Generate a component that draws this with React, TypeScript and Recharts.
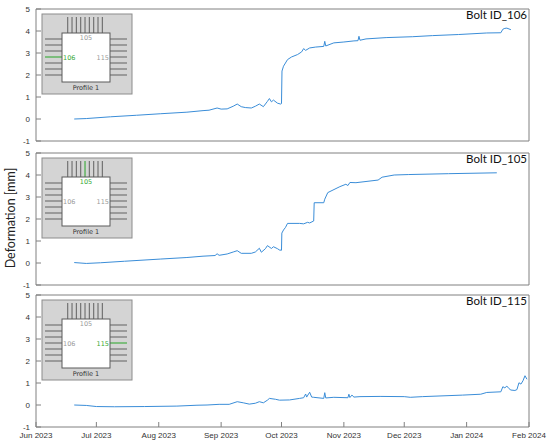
import { Line, LineChart, XAxis, YAxis } from 'recharts';

const monthStarts = [
  '2023-06-01', '2023-07-01', '2023-08-01', '2023-09-01', '2023-10-01',
  '2023-11-01', '2023-12-01', '2024-01-01', '2024-02-01',
];
const monthLabels = [
  'Jun 2023', 'Jul 2023', 'Aug 2023', 'Sep 2023', 'Oct 2023',
  'Nov 2023', 'Dec 2023', 'Jan 2024', 'Feb 2024',
];
const yTicks = [-1, 0, 1, 2, 3, 4, 5];

// Bolt ID_106
const dates106 = [
  '2023-06-20', '2023-06-26', '2023-07-08', '2023-07-21', '2023-08-02', '2023-08-15',
  '2023-08-23', '2023-08-26', '2023-08-30', '2023-09-01', '2023-09-04', '2023-09-07',
  '2023-09-09', '2023-09-11', '2023-09-13', '2023-09-16', '2023-09-18', '2023-09-20',
  '2023-09-22', '2023-09-24', '2023-09-25', '2023-09-26', '2023-09-27', '2023-09-29',
  '2023-09-30 12', '2023-10-01 00', '2023-10-01 06', '2023-10-02', '2023-10-04', '2023-10-06',
  '2023-10-09', '2023-10-11', '2023-10-12', '2023-10-13', '2023-10-15', '2023-10-18',
  '2023-10-22', '2023-10-22 12', '2023-10-23', '2023-10-27', '2023-11-01', '2023-11-06',
  '2023-11-08', '2023-11-08 12', '2023-11-09', '2023-11-12', '2023-11-22', '2023-12-05',
  '2023-12-15', '2023-12-28', '2024-01-11', '2024-01-18', '2024-01-19', '2024-01-20',
  '2024-01-21', '2024-01-23',
];
const def106 = [
  0.0, 0.02, 0.1, 0.17, 0.24, 0.31,
  0.38, 0.4, 0.5, 0.45, 0.46, 0.58,
  0.68, 0.56, 0.52, 0.5, 0.58, 0.68,
  0.56, 0.8, 0.93, 0.78, 0.86, 0.72,
  0.68, 0.7, 2.18, 2.4, 2.7, 2.82,
  2.93, 3.05, 3.2, 3.12, 3.23, 3.27,
  3.3, 3.53, 3.32, 3.46, 3.5, 3.55,
  3.56, 3.76, 3.58, 3.64, 3.7, 3.74,
  3.79, 3.84, 3.91, 3.92, 4.08, 4.12,
  4.13, 4.06,
];

// Bolt ID_105
const dates105 = [
  '2023-06-20', '2023-06-26', '2023-07-03', '2023-07-15', '2023-08-02', '2023-08-15',
  '2023-08-23', '2023-08-29', '2023-08-30', '2023-08-31', '2023-09-04', '2023-09-07',
  '2023-09-09', '2023-09-11', '2023-09-16', '2023-09-18', '2023-09-20', '2023-09-21',
  '2023-09-23', '2023-09-24', '2023-09-26', '2023-09-27', '2023-09-29', '2023-09-30',
  '2023-10-01 00', '2023-10-01 04', '2023-10-02', '2023-10-03', '2023-10-04', '2023-10-10',
  '2023-10-12', '2023-10-14', '2023-10-15', '2023-10-17 00', '2023-10-17 06', '2023-10-22',
  '2023-10-22 12', '2023-10-23', '2023-10-24', '2023-10-30', '2023-11-02', '2023-11-03',
  '2023-11-04', '2023-11-07', '2023-11-18', '2023-11-20', '2023-11-26', '2023-12-03',
  '2023-12-23', '2024-01-16',
];
const def105 = [
  0.02, -0.02, 0.01, 0.08, 0.18, 0.25,
  0.31, 0.34, 0.42, 0.35, 0.41, 0.5,
  0.56, 0.44, 0.44, 0.5, 0.67, 0.49,
  0.65, 0.79, 0.66, 0.74, 0.65, 0.59,
  0.58, 1.36, 1.5, 1.62, 1.8, 1.8,
  1.78, 1.85, 1.82, 1.91, 2.74, 2.74,
  2.9, 3.0, 3.2, 3.47, 3.58, 3.52,
  3.66, 3.65, 3.77, 3.9, 4.0, 4.02,
  4.06, 4.1,
];

// Bolt ID_115
const dates115 = [
  '2023-06-20', '2023-06-26', '2023-07-01', '2023-07-10', '2023-07-25', '2023-08-10',
  '2023-08-20', '2023-08-25', '2023-08-31', '2023-09-05', '2023-09-09', '2023-09-12',
  '2023-09-15', '2023-09-18', '2023-09-20', '2023-09-22', '2023-09-24', '2023-09-25',
  '2023-09-28', '2023-09-30', '2023-10-05', '2023-10-10', '2023-10-12', '2023-10-13',
  '2023-10-13 12', '2023-10-15', '2023-10-16', '2023-10-17', '2023-10-22', '2023-10-22 12',
  '2023-10-23', '2023-10-27', '2023-11-03', '2023-11-03 12', '2023-11-04', '2023-11-05',
  '2023-11-06', '2023-11-09', '2023-11-19', '2023-12-01', '2023-12-04', '2023-12-10',
  '2023-12-30', '2024-01-08', '2024-01-11', '2024-01-18', '2024-01-19', '2024-01-20',
  '2024-01-21', '2024-01-22', '2024-01-23', '2024-01-25', '2024-01-26', '2024-01-27',
  '2024-01-28', '2024-01-29', '2024-01-30', '2024-01-31',
];
const def115 = [
  0.0, -0.02, -0.07, -0.08, -0.07, -0.05,
  -0.01, 0.0, 0.03, 0.03, 0.15, 0.1,
  0.04, 0.08, 0.15, 0.1, 0.22, 0.3,
  0.26, 0.22, 0.23, 0.3, 0.33, 0.5,
  0.36, 0.58, 0.36, 0.35, 0.3, 0.56,
  0.32, 0.35, 0.33, 0.49, 0.34, 0.45,
  0.36, 0.38, 0.39, 0.38, 0.35, 0.38,
  0.45, 0.49, 0.57, 0.6, 0.83, 0.78,
  0.86, 0.75, 0.68, 0.66, 0.7, 1.01,
  0.95, 1.1, 1.33, 1.17,
];

const toTime = (s: string) =>
  Date.UTC(+s.slice(0, 4), +s.slice(5, 7) - 1, +s.slice(8, 10), s.length > 10 ? +s.slice(11, 13) : 0);

const xTicks = monthStarts.map(toTime);
const xDomain: [number, number] = [xTicks[0], xTicks[xTicks.length - 1]];

const AXIS = '#808080';
const TEXT = '#333333';
const LINE = '#3a8dd8';
const GREEN = '#36a936';
const PLOT_H = 132;
const tickFont = { fill: TEXT, fontSize: 8, fontFamily: 'Liberation Sans, Arial, sans-serif' };

type Side = 'left' | 'top' | 'right';

function Panel({ top, dates, values, last }: { top: number; dates: string[]; values: number[]; last?: boolean }) {
  const rows = dates.map((d, i) => ({ t: toTime(d), v: values[i] }));
  // axes need at least 1px of size or recharts skips drawing them
  const bottomH = last ? 17 : 1;
  const bottomPad = last ? 0 : 4;
  return (
    <div style={{ position: 'absolute', left: 0, top: top - 6 }}>
      <LineChart
        width={550}
        height={6 + PLOT_H + bottomH + bottomPad}
        data={rows}
        margin={{ top: 5, right: 20, bottom: bottomPad, left: 0 }}
      >
        <XAxis
          type="number"
          dataKey="t"
          domain={xDomain}
          ticks={xTicks}
          interval={0}
          allowDataOverflow
          height={bottomH}
          stroke={AXIS}
          tickSize={-5}
          tickMargin={10}
          tick={last ? tickFont : false}
          tickFormatter={(v: number) => monthLabels[xTicks.indexOf(v)] ?? ''}
        />
        <XAxis
          xAxisId="top"
          orientation="top"
          type="number"
          dataKey="t"
          domain={xDomain}
          ticks={xTicks}
          interval={0}
          allowDataOverflow
          height={1}
          stroke={AXIS}
          tickSize={-5}
          tick={false}
        />
        <YAxis
          type="number"
          domain={[-1, 5]}
          ticks={yTicks}
          interval={0}
          allowDataOverflow
          width={36}
          stroke={AXIS}
          tickSize={-5}
          tickMargin={11}
          tick={tickFont}
        />
        <YAxis
          yAxisId="right"
          orientation="right"
          type="number"
          domain={[-1, 5]}
          ticks={yTicks}
          interval={0}
          allowDataOverflow
          width={1}
          stroke={AXIS}
          tickSize={-5}
          tick={false}
        />
        <Line
          type="linear"
          dataKey="v"
          stroke={LINE}
          strokeWidth={1}
          dot={false}
          isAnimationActive={false}
        />
        {/* invisible copy so the top and right frame axes get a scale */}
        <Line
          xAxisId="top"
          yAxisId="right"
          type="linear"
          dataKey="v"
          stroke="none"
          dot={false}
          activeDot={false}
          legendType="none"
          isAnimationActive={false}
        />
      </LineChart>
    </div>
  );
}

function Inset({ top, active }: { top: number; active: Side }) {
  const bx = 42;
  const by = top + 5;
  const topLines = Array.from({ length: 9 }, (_, i) => bx + 25.7 + i * 4.33);
  const sideLines = Array.from({ length: 7 }, (_, i) => by + 25 + i * 6);
  const font = { fontFamily: 'DejaVu Sans, sans-serif', fontSize: 6.5 };
  return (
    <g>
      <rect x={bx} y={by} width={90} height={80} fill="#d4d4d4" stroke="#8c8c8c" />
      {topLines.map((x, i) => (
        <line key={`t${i}`} x1={x} x2={x} y1={by + 3} y2={by + 19}
          stroke={active === 'top' && i === 4 ? GREEN : '#6a6a6a'} strokeWidth={1.1} />
      ))}
      {sideLines.map((y, i) => (
        <line key={`l${i}`} x1={bx + 3} x2={bx + 20} y1={y} y2={y}
          stroke={active === 'left' && i === 3 ? GREEN : '#6a6a6a'} strokeWidth={1.1} />
      ))}
      {sideLines.map((y, i) => (
        <line key={`r${i}`} x1={bx + 68} x2={bx + 85} y1={y} y2={y}
          stroke={active === 'right' && i === 3 ? GREEN : '#6a6a6a'} strokeWidth={1.1} />
      ))}
      <rect x={bx + 20} y={by + 19} width={48} height={49} fill="#ffffff" stroke="#5a5a5a" />
      <text x={bx + 44} y={by + 26} textAnchor="middle" fill={active === 'top' ? GREEN : '#9a9a9a'} {...font}>105</text>
      <text x={bx + 21} y={by + 46} textAnchor="start" fill={active === 'left' ? GREEN : '#9a9a9a'} {...font}>106</text>
      <text x={bx + 67} y={by + 46} textAnchor="end" fill={active === 'right' ? GREEN : '#9a9a9a'} {...font}>115</text>
      <text x={bx + 44} y={by + 76} textAnchor="middle" fill="#333" {...font}>Profile 1</text>
    </g>
  );
}

const panelTops = [9, 153, 295];
const titles = ['Bolt ID_106', 'Bolt ID_105', 'Bolt ID_115'];
const insetSides: Side[] = ['left', 'top', 'right'];

export default function App() {
  return (
    <div style={{ position: 'absolute', left: 0, top: 0, width: 550, height: 445, background: '#fff' }}>
      <Panel top={panelTops[0]} dates={dates106} values={def106} />
      <Panel top={panelTops[1]} dates={dates105} values={def105} />
      <Panel top={panelTops[2]} dates={dates115} values={def115} last />
      <svg width={550} height={445} style={{ position: 'absolute', left: 0, top: 0, pointerEvents: 'none' }}>
        {panelTops.map((t, i) => (
          <g key={i}>
            <Inset top={t} active={insetSides[i]} />
            <text x={527} y={t + 10} textAnchor="end" fill="#111" fontFamily="Lato, sans-serif" fontSize={11.5}>
              {titles[i]}
            </text>
          </g>
        ))}
        <text
          x={0}
          y={0}
          transform="translate(15 218) rotate(-90)"
          textAnchor="middle"
          fill="#222"
          fontFamily="Lato, sans-serif"
          fontSize={12.5}
        >
          Deformation [mm]
        </text>
      </svg>
    </div>
  );
}
